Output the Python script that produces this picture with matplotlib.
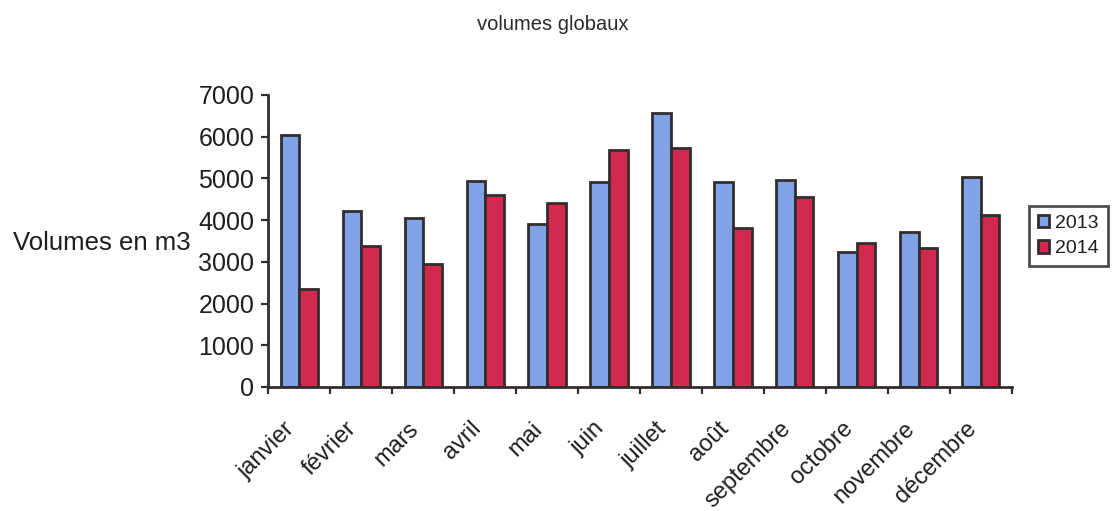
import matplotlib
matplotlib.use('Agg')
import matplotlib.pyplot as plt
import numpy as np

plt.rcParams['font.family'] = ['Liberation Sans', 'DejaVu Sans']

mois = ['janvier', 'février', 'mars', 'avril', 'mai', 'juin', 'juillet',
        'août', 'septembre', 'octobre', 'novembre', 'décembre']
vol_2013 = [6050, 4230, 4040, 4930, 3900, 4920, 6570, 4920, 4960, 3240, 3710, 5040]
vol_2014 = [2340, 3390, 2950, 4600, 4420, 5670, 5730, 3820, 4560, 3460, 3330, 4130]
yticks = [0, 1000, 2000, 3000, 4000, 5000, 6000, 7000]

bleu = '#7fa3e6'
rouge = '#d22a4e'
bord = '#332d2d'
texte = '#1e1e1e'

fig = plt.figure(figsize=(11.15, 5.11), dpi=100)
ax = fig.add_axes([0.2406, 0.2427, 0.6668, 0.5714])

x = np.arange(len(mois))
w = 0.30
ax.bar(x - w/2, vol_2013, w, color=bleu, edgecolor=bord, linewidth=2.0, label='2013')
ax.bar(x + w/2, vol_2014, w, color=rouge, edgecolor=bord, linewidth=2.0, label='2014')

ax.set_xlim(-0.5, len(mois) - 0.5)
ax.set_ylim(0, 7000)
ax.set_yticks(yticks)
ax.set_yticklabels([str(v) for v in yticks], fontsize=18, color=texte)

# ticks aux frontieres des categories, etiquettes au centre
ax.set_xticks(np.arange(len(mois) + 1) - 0.5)
ax.set_xticklabels([])
ax.set_xticks(x, minor=True)
ax.set_xticklabels(mois, minor=True, rotation=45, ha='right', va='top',
                   fontsize=17, color=texte)
ax.tick_params(axis='x', which='minor', length=0, pad=22)
ax.tick_params(axis='x', which='major', length=5, width=1.6, color=bord, direction='out')
ax.tick_params(axis='y', length=5, width=1.6, color=bord, direction='out', pad=5)

for s in ['top', 'right']:
    ax.spines[s].set_visible(False)
for s in ['left', 'bottom']:
    ax.spines[s].set_color(bord)
    ax.spines[s].set_linewidth(2.0)

fig.text(553/1115, 1 - 25/511, 'volumes globaux', ha='center', va='center',
         fontsize=14.5, color='#2a2a2a')
fig.text(13/1115, 1 - 243/511, 'Volumes en m3', ha='left', va='center',
         fontsize=18.5, color=texte)

leg = fig.legend(loc='center left', bbox_to_anchor=(1029/1115, 1 - 236/511),
                 fontsize=14, frameon=True, fancybox=False, handlelength=0.6,
                 handleheight=0.6, handletextpad=0.3, borderpad=0.45,
                 labelspacing=0.45, borderaxespad=0)
leg.get_frame().set_edgecolor('#222222')
leg.get_frame().set_linewidth(2.0)
for t in leg.get_texts():
    t.set_color(texte)

fig.savefig('out.png', dpi=100, facecolor='white')
